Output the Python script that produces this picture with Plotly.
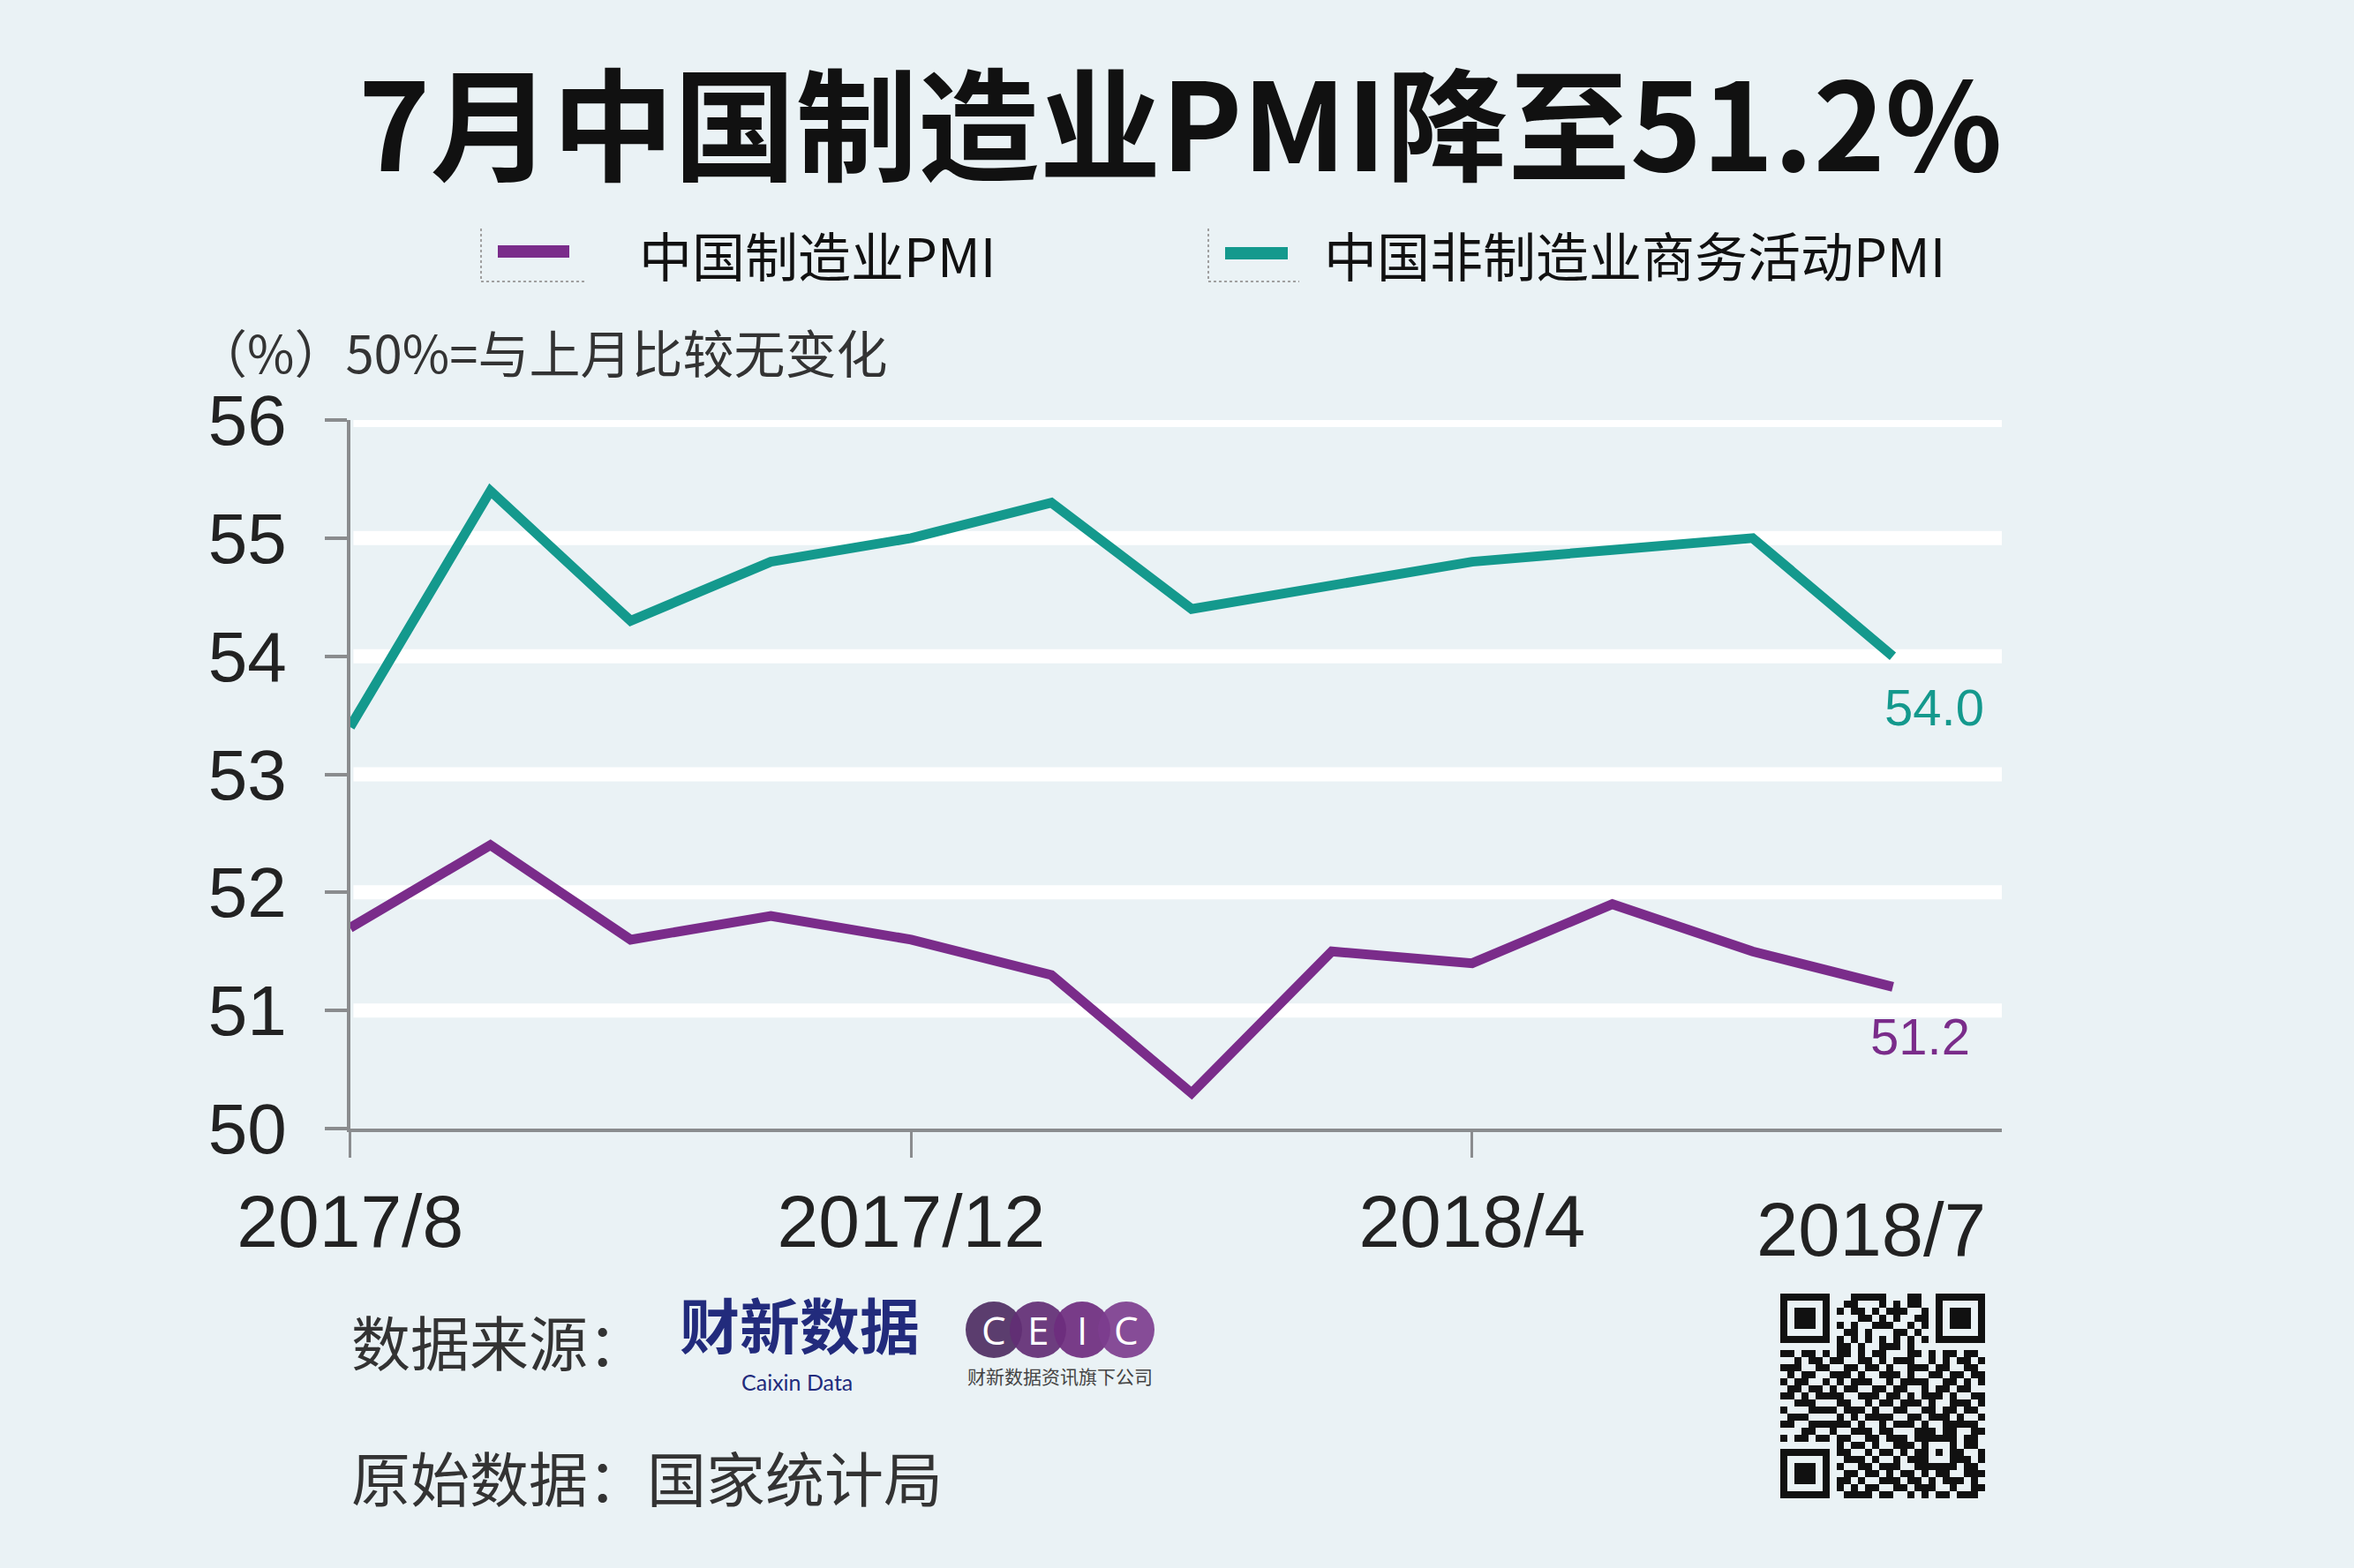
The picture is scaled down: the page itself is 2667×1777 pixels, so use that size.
"""7月中国制造业PMI降至51.2% - recreated with plotly."""

import plotly.graph_objects as go

# Data
MONTHS = ["2017/8", "2017/9", "2017/10", "2017/11", "2017/12", "2018/1",
          "2018/2", "2018/3", "2018/4", "2018/5", "2018/6", "2018/7"]
MFG_PMI = [51.7, 52.4, 51.6, 51.8, 51.6, 51.3, 50.3, 51.5, 51.4, 51.9, 51.5, 51.2]
NON_MFG_PMI = [53.4, 55.4, 54.3, 54.8, 55.0, 55.3, 54.4, 54.6, 54.8, 54.9, 55.0, 54.0]
SERIES_NAMES = ["中国制造业PMI", "中国非制造业商务活动PMI"]
TICK_MONTHS = ["2017/8", "2017/12", "2018/4"]
Y_TICKS = [50, 51, 52, 53, 54, 55, 56]
GRID_VALUES = [51, 52, 53, 54, 55, 56]

TITLE = "7月中国制造业PMI降至51.2%"
UNIT_NOTE = "（%）50%=与上月比较无变化"
SOURCE_LABEL = "数据来源："
RAW_SOURCE = "原始数据：国家统计局"

# QR code modules (decorative, 29x29)
F, E, C = "1111111", "1000001", "1011101"
QR_ROWS = [
    F + "0" + "0011111000110" + "0" + F,
    E + "0" + "0110001010110" + "0" + E,
    C + "0" + "1011010111001" + "0" + C,
    C + "0" + "0001101010011" + "0" + C,
    C + "0" + "1010011100101" + "0" + C,
    E + "0" + "0110100011010" + "0" + E,
    F + "0" + "1010101010101" + "0" + F,
    "00000000" + "1101001110100" + "00000000",
    "110110" + "1" + "0110101100011010110110",
    "001011" + "0" + "1100110101110010101101",
    "111001" + "1" + "0011011010011101100110",
    "010110" + "0" + "1110100111010011011011",
    "101100" + "1" + "0101110010111100110101",
    "011011" + "0" + "1011001101100101101100",
    "110101" + "1" + "1100111011010111010011",
    "001110" + "0" + "0110010110111010011101",
    "100011" + "1" + "1011101001100110110110",
    "011100" + "0" + "0101011110011011101001",
    "110011" + "1" + "1110100101110100111110",
    "000110" + "0" + "1001110110001110110011",
    "101101" + "1" + "0110011011101" + "11111" + "0110",
    "00000000" + "101101001110" + "10001" + "0110",
    F + "0" + "110010110101" + "10101" + "1001",
    E + "0" + "011101001011" + "10001" + "1101",
    C + "0" + "100110111001" + "11111" + "0110",
    C + "0" + "011011010110" + "101100111",
    C + "0" + "110100111011" + "010111010",
    E + "0" + "101011001101" + "110010011",
    F + "0" + "011110110010" + "101101110",
]

CEIC_LETTERS = ["C", "E", "I", "C"]

# Colors
bg_color = "#EAF2F5"
purple = "#7A2C8A"
teal = "#14998D"
axis_color = "#8A8C8E"
text_color = "#222222"
navy = "#222B7C"
ceic_colors = ["#4E2E62", "#622E74", "#6E2D7E", "#7D3E8E"]

W, H = 2667, 1777
CJK = "Noto Sans CJK SC"
LATIN = "Liberation Sans, Arial"


def px(x):
    return x / W


def py(y):
    return 1 - y / H


n = len(MONTHS)
xs = list(range(n))

fig = go.Figure()

for values, name, color in [(MFG_PMI, SERIES_NAMES[0], purple),
                            (NON_MFG_PMI, SERIES_NAMES[1], teal)]:
    fig.add_trace(go.Scatter(
        x=xs, y=values,
        mode="lines",
        name=name,
        text=MONTHS,
        line=dict(color=color, width=11),
        hovertemplate=f"{name}<br>%{{text}}: %{{y:.1f}}<extra></extra>",
        showlegend=False,
    ))

# QR code as heatmap on its own axes
qr_z = [[int(c) for c in row] for row in QR_ROWS]
fig.add_trace(go.Heatmap(
    z=qr_z,
    xaxis="x2", yaxis="y2",
    colorscale=[[0, bg_color], [1, "#111111"]],
    showscale=False,
    hoverinfo="skip",
))

fig.update_layout(
    width=W, height=H,
    margin=dict(l=0, r=0, t=0, b=0, autoexpand=False),
    paper_bgcolor=bg_color,
    plot_bgcolor=bg_color,
    font=dict(family=CJK, color=text_color),
    showlegend=False,
    xaxis=dict(
        domain=[px(396.7), px(2268)],
        range=[0, 11.777],
        showgrid=False, zeroline=False,
        showline=True, linecolor=axis_color, linewidth=4,
        ticks="outside", ticklen=29, tickwidth=3, tickcolor=axis_color,
        tickvals=[MONTHS.index(m) for m in TICK_MONTHS],
        ticktext=TICK_MONTHS,
        tickfont=dict(family=LATIN, size=84, color=text_color),
        ticklabelstandoff=0,
        automargin=False,
        fixedrange=True,
    ),
    yaxis=dict(
        domain=[py(1279), py(476)],
        range=[50, 56],
        showgrid=False, zeroline=False,
        showline=True, linecolor=axis_color, linewidth=4,
        ticks="outside", ticklen=25, tickwidth=4, tickcolor=axis_color,
        tickvals=Y_TICKS,
        tickfont=dict(family=LATIN, size=80, color=text_color),
        ticklabelstandoff=27,
        automargin=False,
        fixedrange=True,
    ),
    xaxis2=dict(
        domain=[px(2017), px(2249)], anchor="y2",
        visible=False, fixedrange=True,
    ),
    yaxis2=dict(
        domain=[py(1698), py(1466)], anchor="x2",
        visible=False, autorange="reversed", fixedrange=True,
    ),
)

# White horizontal gridlines (none on the 50 baseline)
for v in GRID_VALUES:
    fig.add_shape(
        type="line", xref="x domain", yref="y",
        x0=0.002, x1=1, y0=v, y1=v,
        line=dict(color="white", width=16),
        layer="below",
    )

# Title
fig.add_annotation(
    x=px(1337), y=py(134), xref="paper", yref="paper",
    text=f"<b>{TITLE}</b>", showarrow=False,
    font=dict(family=CJK, size=138, color="#111111"),
    xanchor="center", yanchor="middle",
)

# Legend
legend_items = [
    (SERIES_NAMES[0], purple, 545, 662, 564, 645, 285, 726),
    (SERIES_NAMES[1], teal, 1369, 1472, 1388, 1459, 287, 1502),
]
for name, color, bx0, bx1, mx0, mx1, my, tx in legend_items:
    fig.add_shape(type="line", xref="paper", yref="paper",
                  x0=px(bx0), x1=px(bx0), y0=py(259), y1=py(319),
                  line=dict(color="#A0A0A0", width=2, dash="dot"))
    fig.add_shape(type="line", xref="paper", yref="paper",
                  x0=px(bx0), x1=px(bx1), y0=py(319), y1=py(319),
                  line=dict(color="#A0A0A0", width=2, dash="dot"))
    fig.add_shape(type="line", xref="paper", yref="paper",
                  x0=px(mx0), x1=px(mx1), y0=py(my), y1=py(my),
                  line=dict(color=color, width=14))
    fig.add_annotation(
        x=px(tx - 4), y=py(288), xref="paper", yref="paper",
        text=name, showarrow=False,
        font=dict(family=CJK, size=60, color="#111111"),
        xanchor="left", yanchor="middle",
    )

# Unit note
fig.add_annotation(
    x=px(220), y=py(398), xref="paper", yref="paper",
    text=UNIT_NOTE, showarrow=False,
    font=dict(family=CJK, size=58, color="#333333"),
    xanchor="left", yanchor="middle",
)

# Last month label (no tick)
fig.add_annotation(
    x=n - 1, y=py(1393), xref="x", yref="paper",
    text=MONTHS[-1], showarrow=False,
    font=dict(family=LATIN, size=85, color=text_color),
    xanchor="center", yanchor="middle",
    xshift=-25,
)

# End value labels
fig.add_annotation(
    x=n - 1, y=NON_MFG_PMI[-1], xref="x", yref="y",
    text=f"{NON_MFG_PMI[-1]:.1f}", showarrow=False,
    font=dict(family=LATIN, size=58, color=teal),
    xanchor="center", yanchor="middle", xshift=47, yshift=-58,
)
fig.add_annotation(
    x=n - 1, y=MFG_PMI[-1], xref="x", yref="y",
    text=f"{MFG_PMI[-1]:.1f}", showarrow=False,
    font=dict(family=LATIN, size=58, color=purple),
    xanchor="center", yanchor="middle", xshift=31, yshift=-56,
)

# Footer sources
fig.add_annotation(
    x=px(396), y=py(1518), xref="paper", yref="paper",
    text=SOURCE_LABEL, showarrow=False,
    font=dict(family=CJK, size=67, color="#333333"),
    xanchor="left", yanchor="middle",
)
fig.add_annotation(
    x=px(396), y=py(1672), xref="paper", yref="paper",
    text=RAW_SOURCE, showarrow=False,
    font=dict(family=CJK, size=67, color="#333333"),
    xanchor="left", yanchor="middle",
)

# Caixin Data logo
fig.add_annotation(
    x=px(906), y=py(1499), xref="paper", yref="paper",
    text="<b>财新数据</b>", showarrow=False,
    font=dict(family=CJK, size=68, color=navy),
    xanchor="center", yanchor="middle",
)
fig.add_annotation(
    x=px(903), y=py(1566), xref="paper", yref="paper",
    text="Caixin Data", showarrow=False,
    font=dict(family="Lato, Open Sans", size=25, color=navy),
    xanchor="center", yanchor="middle",
)

# CEIC logo
r = 32
for i, (letter, col) in enumerate(zip(CEIC_LETTERS, ceic_colors)):
    cx = 1126 + i * 50
    fig.add_shape(type="circle", xref="paper", yref="paper",
                  x0=px(cx - r), x1=px(cx + r), y0=py(1507 + r), y1=py(1507 - r),
                  fillcolor=col, opacity=0.92, line=dict(width=0))
    fig.add_annotation(
        x=px(cx), y=py(1507), xref="paper", yref="paper",
        text=letter, showarrow=False,
        font=dict(family="Open Sans, Lato", size=44, color="white"),
        xanchor="center", yanchor="middle",
    )
fig.add_annotation(
    x=px(1201), y=py(1559), xref="paper", yref="paper",
    text="财新数据资讯旗下公司", showarrow=False,
    font=dict(family=CJK, size=21, color="#444444"),
    xanchor="center", yanchor="middle",
)

fig.write_html(
    "out.html",
    config={"displayModeBar": False},
    post_script="document.body.style.margin='0';",
)
